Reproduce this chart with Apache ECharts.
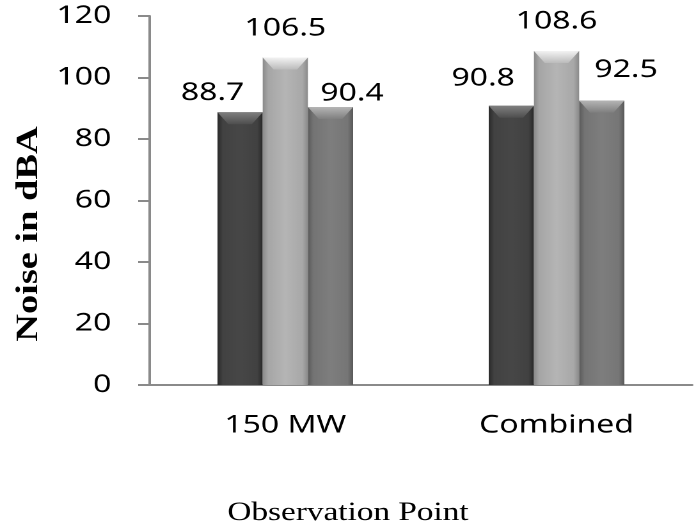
<!DOCTYPE html>
<html>
<head>
<meta charset="utf-8">
<script src="https://cdn.jsdelivr.net/npm/echarts@6/dist/echarts.min.js"></script>
<style>
  html, body { margin: 0; padding: 0; background: #fff; overflow: hidden; }
  /* The chart is laid out on a narrower canvas and widened horizontally,
     which gives the broad lettering of the original figure. */
  #chart {
    width: 544px; height: 529px;
    transform: scaleX(1.2794); transform-origin: 0 0;
  }
</style>
</head>
<body>
<div id="chart"></div>
<script>
// ---- data ----
const categories = ['150 MW', 'Combined'];
const seriesA = [88.7, 90.8];   // dark bars
const seriesB = [106.5, 108.6]; // light bars
const seriesC = [90.4, 92.5];   // mid-grey bars
const yTicks = { min: 0, max: 120, interval: 20 };
const xTitle = 'Observation Point';
const yTitle = 'Noise in dBA';

// ---- styling ----
const labelFont = '"Noto Sans", "Open Sans", sans-serif';
// label nudges [dx, dy] per series, per category
const labelNudge = {
  A: [[-21.5, -7], [-22, -15]],
  B: [[0, -16.5], [0, -17]],
  C: [[16.8, -1], [19, -18]]
};

function hGrad(stops) {
  return new echarts.graphic.LinearGradient(0, 0, 1, 0,
    stops.map(s => ({ offset: s[0], color: s[1] })));
}
function vGrad(top, bottom) {
  return new echarts.graphic.LinearGradient(0, 0, 0, 1,
    [{ offset: 0, color: top }, { offset: 1, color: bottom }]);
}

const fills = {
  A: hGrad([[0, '#2a2a2a'], [0.12, '#424242'], [0.5, '#474747'], [0.88, '#414141'], [1, '#282828']]),
  B: hGrad([[0, '#8a8a8a'], [0.12, '#a6a6a6'], [0.5, '#b5b5b5'], [0.88, '#a8a8a8'], [1, '#8a8a8a']]),
  C: hGrad([[0, '#5a5a5a'], [0.12, '#747474'], [0.5, '#7e7e7e'], [0.88, '#767676'], [1, '#585858']])
};
const caps = {
  A: vGrad('#8a8a8a', '#505050'),
  B: vGrad('#ffffff', '#bdbdbd'),
  C: vGrad('#c0c0c0', '#808080')
};

function barSeries(key, values) {
  return {
    type: 'bar',
    name: key,
    data: values.map((v, i) => ({
      value: v,
      label: { offset: labelNudge[key][i] }
    })),
    barGap: '0%',
    barCategoryGap: '50%',
    itemStyle: { color: fills[key] },
    label: {
      show: true,
      position: 'top',
      distance: 0,
      fontFamily: labelFont,
      fontSize: 25,
      color: '#000'
    },
    z: 2
  };
}
function capSeries(key, values) {
  return {
    type: 'pictorialBar',
    name: key + '-cap',
    data: values,
    barGap: '0%',
    barCategoryGap: '50%',
    symbol: 'path://M0,0 L100,0 L76,100 L24,100 Z',
    symbolSize: ['100%', 12],
    symbolPosition: 'end',
    symbolRepeat: false,
    itemStyle: { color: caps[key], opacity: 0.85 },
    silent: true,
    z: 3
  };
}

const chart = echarts.init(document.getElementById('chart'), null, { renderer: 'canvas', devicePixelRatio: 2 });
chart.setOption({
  animation: false,
  backgroundColor: '#fff',
  grid: { left: 117, top: 16, width: 424, height: 369, containLabel: false },
  xAxis: {
    type: 'category',
    data: categories,
    axisLine: { lineStyle: { color: '#8a8a8a', width: 2 } },
    axisTick: { show: false },
    axisLabel: { fontFamily: labelFont, fontSize: 25, color: '#000', margin: 28 },
    splitLine: { show: false }
  },
  yAxis: {
    type: 'value',
    min: yTicks.min, max: yTicks.max, interval: yTicks.interval,
    axisLine: { show: true, lineStyle: { color: '#8a8a8a', width: 2 } },
    axisTick: { show: true, length: 9, lineStyle: { color: '#8a8a8a', width: 2 } },
    axisLabel: { fontFamily: labelFont, fontSize: 25, color: '#000', margin: 30 },
    splitLine: { show: false }
  },
  graphic: [
    {
      type: 'text',
      x: 272, y: 513,
      style: {
        text: xTitle,
        font: '26px "Liberation Serif", "Times New Roman", serif',
        fill: '#000',
        align: 'center', verticalAlign: 'middle',
        textAlign: 'center', textVerticalAlign: 'middle'
      }
    },
    {
      type: 'text',
      x: 23, y: 234,
      rotation: Math.PI / 2,
      scaleX: 1.6,
      style: {
        text: yTitle,
        font: 'bold 24px "Liberation Serif", "Times New Roman", serif',
        fill: '#000',
        align: 'center', verticalAlign: 'middle',
        textAlign: 'center', textVerticalAlign: 'middle'
      }
    }
  ],
  series: [
    barSeries('A', seriesA),
    barSeries('B', seriesB),
    barSeries('C', seriesC),
    capSeries('A', seriesA),
    capSeries('B', seriesB),
    capSeries('C', seriesC)
  ]
});
</script>
</body>
</html>
